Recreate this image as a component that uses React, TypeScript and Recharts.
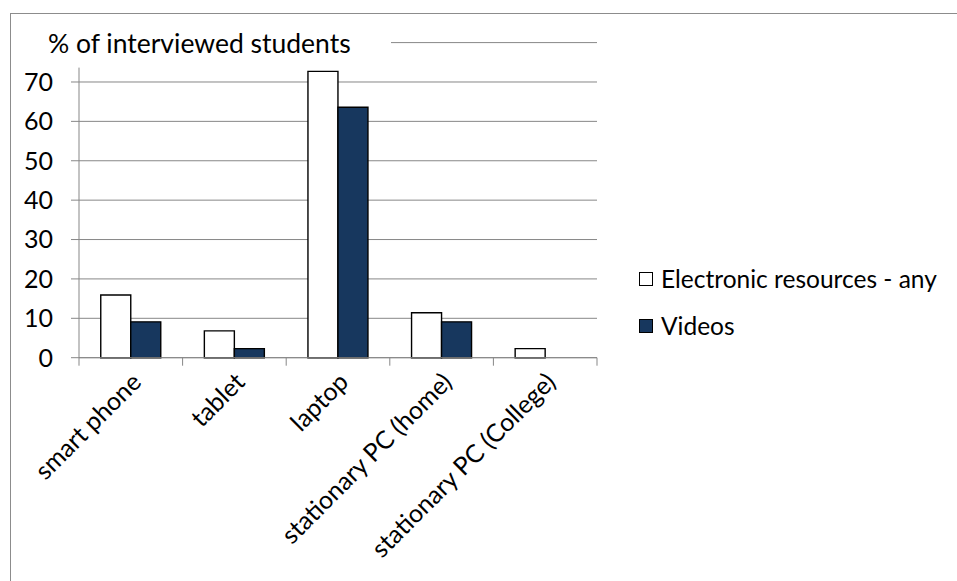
import React from 'react';
import { BarChart, Bar, XAxis, YAxis, CartesianGrid, Legend } from 'recharts';

const categories = ['smart phone', 'tablet', 'laptop', 'stationary PC (home)', 'stationary PC (College)'];
const electronicAny = [15.9, 6.8, 72.7, 11.4, 2.3];
const videos = [9.1, 2.3, 63.6, 9.1, 0];
const yTicks = [0, 10, 20, 30, 40, 50, 60, 70, 80];

const seriesNames = ['Electronic resources - any', 'Videos'];
const seriesColors = ['#FFFFFF', '#17375E'];

const data = categories.map((c, i) => ({ name: c, any: electronicAny[i], videos: videos[i] }));

const FONT = 'Lato, "Open Sans", sans-serif';
const GRID = '#878787';

const XTick = (props: any) => {
  const { x, y, payload, index, visibleTicksCount, width } = props;
  const half = payload && typeof payload.offset === 'number' && payload.offset > 0
    ? payload.offset
    : width / visibleTicksCount / 2;
  const ax = x + 12;
  const ay = y + 26;
  return (
    <g>
      <line x1={x - half} y1={y} x2={x - half} y2={y + 8} stroke={GRID} strokeWidth={1} />
      {index === visibleTicksCount - 1 && (
        <line x1={x + half} y1={y} x2={x + half} y2={y + 8} stroke={GRID} strokeWidth={1} />
      )}
      <text
        x={ax}
        y={ay}
        transform={`rotate(-45, ${ax}, ${ay})`}
        textAnchor="end"
        fontFamily={FONT}
        fontSize={25}
        fill="#000"
      >
        {payload.value}
      </text>
    </g>
  );
};

const TitleLabel = (props: any) => {
  const vb = props.viewBox || { x: 0, y: 0 };
  return (
    <g>
      <rect x={vb.x + 11} y={vb.y - 28} width={380} height={53} fill="#fff" />
      <text x={vb.x + 48} y={vb.y + 10} fontFamily={FONT} fontSize={26.5} fill="#000">
        % of interviewed students
      </text>
    </g>
  );
};

const LegendContent = () => (
  <div style={{ fontFamily: FONT, fontSize: 24.5, color: '#000' }}>
    {seriesNames.map((n, i) => (
      <div key={n} style={{ display: 'flex', alignItems: 'center', height: 47 }}>
        <span
          style={{
            display: 'inline-block',
            width: 14,
            height: 14,
            background: seriesColors[i],
            border: '1.5px solid #000',
            marginRight: 8,
            boxSizing: 'border-box',
          }}
        />
        <span>{n}</span>
      </div>
    ))}
  </div>
);

export default function App() {
  return (
    <div style={{ position: 'absolute', left: 0, top: 0, width: 957, height: 581, overflow: 'hidden', background: '#fff' }}>
      <div
        style={{
          position: 'absolute',
          left: 10,
          top: 13,
          width: 1200,
          height: 1200,
          borderLeft: '1px solid #8c8c8c',
          borderTop: '1px solid #8c8c8c',
        }}
      />
      <div style={{ position: 'absolute', left: 0, top: 0 }}>
        <BarChart
          width={957}
          height={581}
          data={data}
          margin={{ top: 42.6, right: 360, bottom: 223.3, left: 0 }}
          barCategoryGap="21%"
          barGap={0}
        >
          <CartesianGrid horizontal vertical={false} stroke={GRID} strokeWidth={1} strokeDasharray="" />
          <XAxis
            dataKey="name"
            axisLine={{ stroke: GRID, strokeWidth: 1 }}
            tickLine={false}
            tickSize={0}
            tickMargin={0}
            height={0.01}
            interval={0}
            tick={<XTick />}
          />
          <YAxis
            width={79}
            domain={[0, 80]}
            ticks={yTicks}
            interval={0}
            axisLine={{ stroke: GRID, strokeWidth: 1 }}
            tickLine={{ stroke: GRID, strokeWidth: 1 }}
            tickSize={8}
            tickMargin={18}
            tickFormatter={(v: number) => (v === 80 ? '' : String(v))}
            tick={{ fontFamily: FONT, fontSize: 25, fill: '#000' }}
            label={<TitleLabel />}
          />
          <Legend
            layout="horizontal"
            verticalAlign="middle"
            align="center"
            content={<LegendContent />}
            wrapperStyle={{ left: 639, top: 255, width: 318, height: 100 }}
          />
          <Bar dataKey="any" name={seriesNames[0]} fill={seriesColors[0]} stroke="#000" strokeWidth={1.4} isAnimationActive={false} />
          <Bar dataKey="videos" name={seriesNames[1]} fill={seriesColors[1]} stroke="#000" strokeWidth={1.4} isAnimationActive={false} />
        </BarChart>
      </div>
    </div>
  );
}
